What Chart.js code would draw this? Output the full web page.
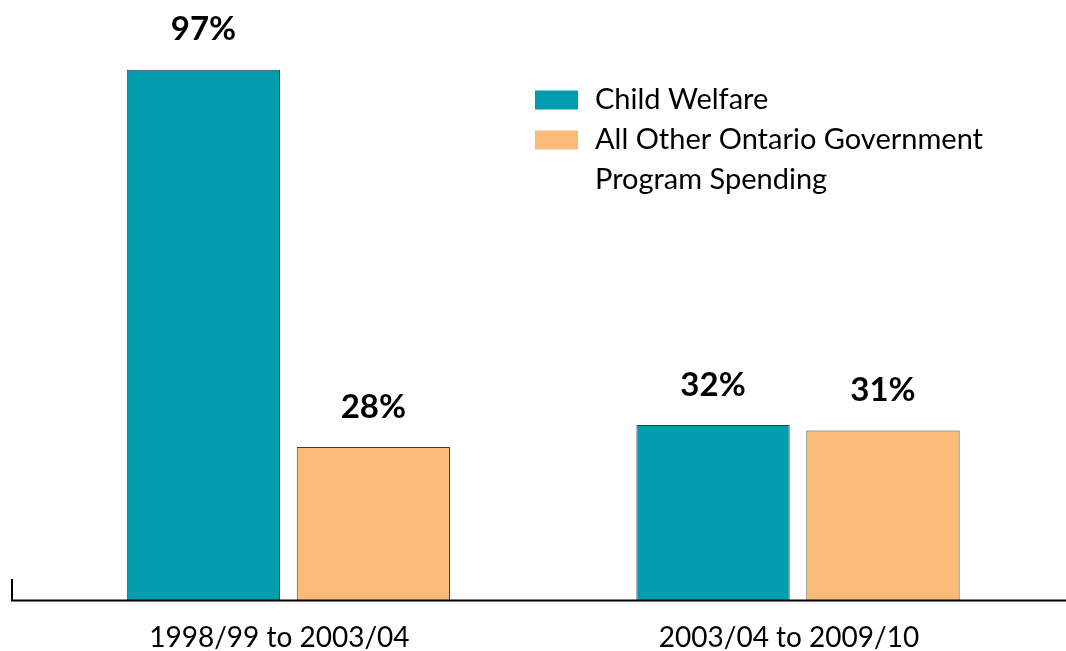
<!DOCTYPE html>
<html><head><meta charset="utf-8">
<script src="https://cdn.jsdelivr.net/npm/chart.js@4.4.1/dist/chart.umd.min.js"></script>
<style>html,body{margin:0;padding:0;background:#fff;overflow:hidden}</style>
</head><body>
<canvas id="c" width="1066" height="651"></canvas>
<script>
const categories = ["1998/99 to 2003/04", "2003/04 to 2009/10"];
const seriesNames = ["Child Welfare", "All Other Ontario Government Program Spending"];
const childWelfare = [97, 32];
const otherSpending = [28, 31];
const valueSuffix = "%";

const COLORS = ["#009DAE", "#FBBB78"];
const FONT = "Lato, 'Open Sans', sans-serif";

function wrapText(ctx, text, maxW) {
  const words = text.split(' ');
  const lines = [];
  let cur = '';
  words.forEach(w => {
    const test = cur ? cur + ' ' + w : w;
    if (ctx.measureText(test).width > maxW && cur) { lines.push(cur); cur = w; }
    else cur = test;
  });
  if (cur) lines.push(cur);
  return lines;
}

const annot = {
  id: 'annot',
  afterDatasetsDraw(chart) {
    const ctx = chart.ctx, area = chart.chartArea;
    ctx.save();
    // value labels
    ctx.font = "bold 33px " + FONT;
    ctx.fillStyle = '#000';
    ctx.textAlign = 'center';
    ctx.textBaseline = 'middle';
    chart.data.datasets.forEach((ds, i) => {
      chart.getDatasetMeta(i).data.forEach((bar, j) => {
        ctx.fillText(ds.data[j] + valueSuffix, bar.x, bar.y - 40);
      });
    });
    // baseline and left tick
    ctx.strokeStyle = '#000';
    ctx.lineWidth = 2;
    ctx.beginPath();
    ctx.moveTo(11, area.bottom + 0.5);
    ctx.lineTo(chart.width, area.bottom + 0.5);
    ctx.moveTo(12, area.bottom + 1.5);
    ctx.lineTo(12, area.bottom - 21);
    ctx.stroke();
    // legend
    ctx.font = "29px " + FONT;
    ctx.textAlign = 'left';
    let y = 100;
    chart.data.datasets.forEach((ds) => {
      ctx.fillStyle = ds.backgroundColor;
      ctx.fillRect(535, y - 9.5, 43, 19);
      ctx.fillStyle = '#000';
      const lines = wrapText(ctx, ds.label, 430);
      lines.forEach((ln, k) => {
        ctx.fillText(ln, 595, y + k * 40);
      });
      y += 40 * lines.length;
    });
    ctx.restore();
  }
};

new Chart(document.getElementById('c'), {
  type: 'bar',
  data: {
    labels: categories,
    datasets: [
      { label: seriesNames[0], data: childWelfare, backgroundColor: COLORS[0], borderColor: '#3c3c3c', borderWidth: 1 },
      { label: seriesNames[1], data: otherSpending, backgroundColor: COLORS[1], borderColor: '#3c3c3c', borderWidth: 1 }
    ]
  },
  options: {
    responsive: false,
    animation: false,
    devicePixelRatio: 1,
    layout: { padding: { left: 33.6, right: 13.2, top: 26, bottom: -25 } },
    datasets: { bar: { categoryPercentage: 0.667, barPercentage: 0.902 } },
    plugins: { legend: { display: false }, tooltip: { enabled: false } },
    scales: {
      x: {
        grid: { display: false, drawTicks: false },
        border: { display: false },
        ticks: { color: '#000', font: { family: FONT, size: 28, lineHeight: 1 }, padding: 24, labelOffset: -9, maxRotation: 0 }
      },
      y: { display: false, min: 0, max: 105 }
    }
  },
  plugins: [annot]
});
</script>
</body></html>
